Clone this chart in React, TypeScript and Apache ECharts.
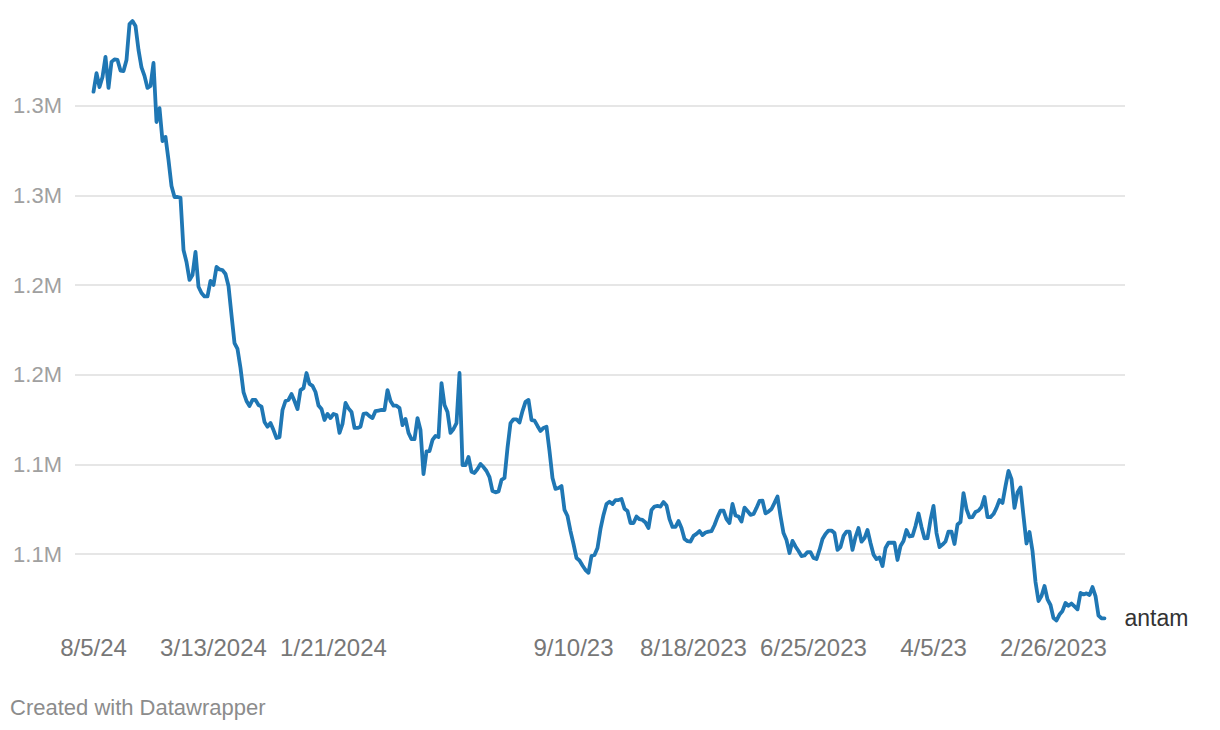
import React, { useEffect, useRef } from "react";
import * as echarts from "echarts";

// Antam gold price, thousand IDR, in the order shown (newest on the left)
const seriesName = "antam";
const antam: number[] = [
  1332.8, 1343.1, 1335.4, 1341.0, 1352.2, 1334.9, 1349.4, 1350.8, 1350.5, 1344.6,
  1344.3, 1350.5, 1370.5, 1372.2, 1369.4, 1356.1, 1346.3, 1341.6, 1334.9, 1336.0,
  1348.8, 1315.9, 1323.6, 1305.3, 1307.6, 1294.7, 1280.2, 1274.1, 1274.1, 1273.6,
  1244.6, 1237.9, 1227.9, 1230.6, 1243.5, 1224.1, 1220.6, 1218.7, 1218.7, 1227.3,
  1225.1, 1235.1, 1233.7, 1233.4, 1231.2, 1224.5, 1208.3, 1192.7, 1189.4, 1178.8,
  1165.4, 1160.4, 1157.6, 1161.0, 1161.0, 1158.2, 1157.3, 1148.7, 1146.1, 1148.1,
  1144.2, 1139.8, 1140.3, 1155.4, 1160.4, 1161.0, 1164.3, 1160.4, 1155.9, 1166.5,
  1167.6, 1176.0, 1169.9, 1168.8, 1165.4, 1157.9, 1155.9, 1149.8, 1153.2, 1150.9,
  1153.2, 1152.6, 1142.6, 1147.6, 1159.3, 1156.3, 1154.3, 1145.4, 1145.4, 1146.1,
  1153.2, 1153.5, 1152.0, 1150.9, 1154.8, 1155.1, 1155.4, 1155.4, 1166.5, 1160.4,
  1157.8, 1157.8, 1156.5, 1147.0, 1150.4, 1142.6, 1139.1, 1139.1, 1150.9, 1144.2,
  1119.7, 1132.3, 1132.5, 1138.7, 1140.9, 1140.3, 1170.4, 1158.2, 1154.3, 1142.6,
  1144.8, 1148.1, 1176.0, 1124.7, 1124.7, 1129.2, 1121.0, 1120.3, 1122.5, 1125.3,
  1123.6, 1121.4, 1118.0, 1110.2, 1109.5, 1110.0, 1116.4, 1117.5, 1134.2, 1148.1,
  1150.2, 1150.2, 1148.4, 1154.8, 1159.9, 1161.0, 1149.8, 1149.5, 1146.5, 1143.7,
  1145.4, 1146.1, 1132.5, 1117.5, 1111.4, 1111.9, 1113.0, 1099.7, 1096.3, 1087.9,
  1080.7, 1072.9, 1071.5, 1068.7, 1066.2, 1064.7, 1074.0, 1074.6, 1078.5, 1089.1,
  1096.9, 1103.0, 1104.3, 1103.0, 1105.2, 1105.2, 1105.8, 1100.4, 1099.1, 1092.4,
  1092.4, 1096.0, 1094.5, 1094.1, 1092.7, 1089.6, 1099.7, 1101.6, 1101.9, 1101.6,
  1104.1, 1102.2, 1094.6, 1090.2, 1090.2, 1093.5, 1089.6, 1083.5, 1082.3, 1082.1,
  1085.2, 1086.3, 1087.9, 1085.7, 1087.1, 1087.6, 1087.9, 1091.3, 1095.7, 1099.3,
  1099.3, 1094.6, 1092.4, 1103.0, 1096.6, 1096.0, 1093.2, 1101.0, 1099.1, 1096.9,
  1097.4, 1100.8, 1104.7, 1104.8, 1097.8, 1098.8, 1100.2, 1103.6, 1107.2, 1096.3,
  1086.8, 1082.9, 1075.7, 1082.4, 1079.3, 1076.8, 1074.0, 1074.3, 1076.2, 1076.2,
  1072.9, 1072.3, 1077.4, 1083.5, 1086.3, 1088.2, 1088.2, 1086.8, 1077.4, 1079.0,
  1085.2, 1087.6, 1087.6, 1077.4, 1084.6, 1089.6, 1082.0, 1084.0, 1088.5, 1081.3,
  1074.8, 1072.3, 1073.2, 1068.4, 1078.5, 1081.4, 1081.4, 1081.4, 1071.8, 1079.6,
  1082.4, 1088.5, 1084.9, 1085.2, 1090.7, 1097.7, 1090.2, 1083.9, 1084.0, 1094.1,
  1101.9, 1086.8, 1079.0, 1080.4, 1082.1, 1087.6, 1087.6, 1080.7, 1091.6, 1093.0,
  1109.1, 1100.2, 1095.5, 1095.7, 1098.5, 1099.3, 1101.3, 1106.9, 1095.7, 1095.7,
  1097.4, 1100.8, 1105.2, 1103.6, 1113.0, 1121.4, 1116.9, 1100.8, 1109.4, 1112.2,
  1096.3, 1081.0, 1087.4, 1076.8, 1059.5, 1048.9, 1051.7, 1057.3, 1049.8, 1046.7,
  1039.4, 1038.1, 1041.4, 1043.4, 1047.8, 1046.3, 1047.5, 1045.9, 1044.3, 1053.4,
  1052.6, 1053.2, 1052.3, 1056.7, 1051.7, 1040.8, 1039.3, 1039.3,
];

// x tick positions (point index) and their date labels
const xTickIndex = [0, 40, 80, 160, 200, 240, 280, 320];
const xTickLabels = ["8/5/24", "3/13/2024", "1/21/2024", "9/10/23", "8/18/2023", "6/25/2023", "4/5/23", "2/26/2023"];

// y gridline values (thousand IDR)
const yTicks = [1075, 1125, 1175, 1225, 1275, 1325];

const FONT = "'Liberation Sans', Arial, Helvetica, sans-serif";

export default function App() {
  const ref = useRef<HTMLDivElement>(null);

  useEffect(() => {
    if (!ref.current) return;
    const chart = echarts.init(ref.current, null, { renderer: "svg" });
    chart.setOption({
      animation: false,
      backgroundColor: "#ffffff",
      grid: { left: 75, right: 95, top: 7, bottom: 104, containLabel: false, outerBoundsMode: "none" },
      xAxis: {
        type: "value",
        min: -6.1667,
        max: 343.8333,
        axisLine: { show: false },
        axisTick: { show: false, customValues: xTickIndex },
        splitLine: { show: false },
        axisLabel: {
          customValues: xTickIndex,
          formatter: (v: number) => {
            const k = xTickIndex.indexOf(Math.round(v));
            return k >= 0 ? xTickLabels[k] : "";
          },
          fontSize: 24,
          color: "#777777",
          margin: 9,
          fontFamily: FONT,
        },
      },
      yAxis: {
        type: "value",
        min: 1035,
        max: 1380,
        axisLine: { show: false },
        axisTick: { show: false, customValues: yTicks },
        splitLine: { show: true, lineStyle: { color: "#e6e6e6", width: 2 } },
        axisLabel: {
          customValues: yTicks,
          formatter: (v: number) => (v / 1000).toFixed(1) + "M",
          fontSize: 22,
          color: "#a0a0a0",
          margin: 13,
          fontFamily: FONT,
        },
      },
      series: [
        {
          type: "line",
          name: seriesName,
          data: antam.map((v, i) => [i, v]),
          symbol: "none",
          lineStyle: { color: "#1f77b4", width: 3.8, cap: "round", join: "round" },
          itemStyle: { color: "#1f77b4" },
          endLabel: {
            show: true,
            formatter: seriesName,
            distance: 20,
            fontSize: 23,
            color: "#333333",
            fontFamily: FONT,
          },
        },
      ],
      graphic: [
        {
          type: "text",
          left: 10,
          top: 696,
          style: { text: "Created with Datawrapper", fontSize: 22, fill: "#8c8c8c", fontFamily: FONT },
        },
      ],
    });
    return () => chart.dispose();
  }, []);

  return <div ref={ref} style={{ position: "absolute", left: 0, top: 0, width: 1220, height: 730 }} />;
}
